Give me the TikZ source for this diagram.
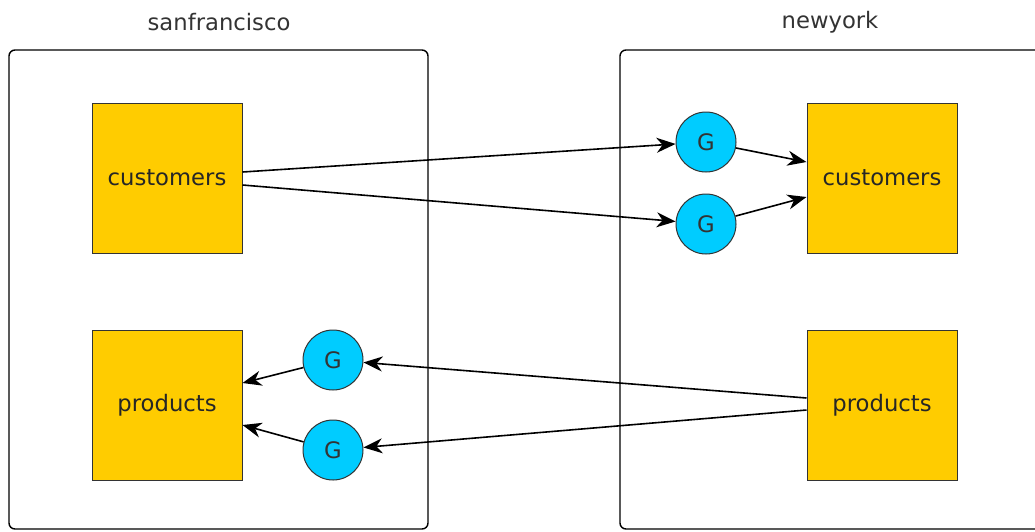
\documentclass[tikz,border=0pt]{standalone}
\usepackage{fontspec}
\setmainfont{DejaVu Sans}
\usetikzlibrary{arrows.meta}
\definecolor{tblyellow}{RGB}{255,204,0}
\definecolor{gcyan}{RGB}{0,204,255}
\begin{document}
\begin{tikzpicture}[x=1pt,y=-1pt]
  \useasboundingbox (0,0) rectangle (1035,531);
  % sites
  \draw[line width=1.4pt, rounded corners=6pt] (9,50) rectangle (428,529);
  \draw[line width=1.4pt, rounded corners=6pt] (620,50) rectangle (1045,529);
  \draw
    (219,22) node[font=\fontsize{22.7}{27}\selectfont, text=black!80] (sf){sanfrancisco}
    (830,22) node[font=\fontsize{22.7}{27}\selectfont, text=black!80] (ny){newyork};
  \draw
    (167,178) node[fill=tblyellow, draw=black!80, line width=1pt, minimum size=150pt, inner sep=0pt, font=\fontsize{22.7}{27}\selectfont, text=black!85] (sfcust){customers}
    (167,405) node[fill=tblyellow, draw=black!80, line width=1pt, minimum size=150pt, inner sep=0pt, font=\fontsize{22.7}{27}\selectfont, text=black!85] (sfprod){products}
    (882,178) node[fill=tblyellow, draw=black!80, line width=1pt, minimum size=150pt, inner sep=0pt, font=\fontsize{22.7}{27}\selectfont, text=black!85] (nycust){customers}
    (882,405) node[fill=tblyellow, draw=black!80, line width=1pt, minimum size=150pt, inner sep=0pt, font=\fontsize{22.7}{27}\selectfont, text=black!85] (nyprod){products};
  \draw
    (706,142) node[fill=gcyan, draw=black!80, line width=1pt, circle, minimum size=60pt, inner sep=0pt, font=\fontsize{22.7}{27}\selectfont, text=black!80] (g1){G}
    (706,224) node[fill=gcyan, draw=black!80, line width=1pt, circle, minimum size=60pt, inner sep=0pt, font=\fontsize{22.7}{27}\selectfont, text=black!80] (g2){G}
    (333,360) node[fill=gcyan, draw=black!80, line width=1pt, circle, minimum size=60pt, inner sep=0pt, font=\fontsize{22.7}{27}\selectfont, text=black!80] (g3){G}
    (333,450) node[fill=gcyan, draw=black!80, line width=1pt, circle, minimum size=60pt, inner sep=0pt, font=\fontsize{22.7}{27}\selectfont, text=black!80] (g4){G};
  \begin{scope}[-{Stealth[length=19pt,width=15pt,inset=6pt]}, line width=1.6pt]
    \draw ([yshift=6pt]sfcust.east) to (g1);
    \draw ([yshift=-7pt]sfcust.east) to (g2);
    \draw (g1) to ([yshift=16pt]nycust.west);
    \draw (g2) to ([yshift=-19pt]nycust.west);
    \draw ([yshift=7pt]nyprod.west) to (g3);
    \draw ([yshift=-5pt]nyprod.west) to (g4);
    \draw (g3) to ([yshift=22pt]sfprod.east);
    \draw (g4) to ([yshift=-20pt]sfprod.east);
  \end{scope}
\end{tikzpicture}
\end{document}
